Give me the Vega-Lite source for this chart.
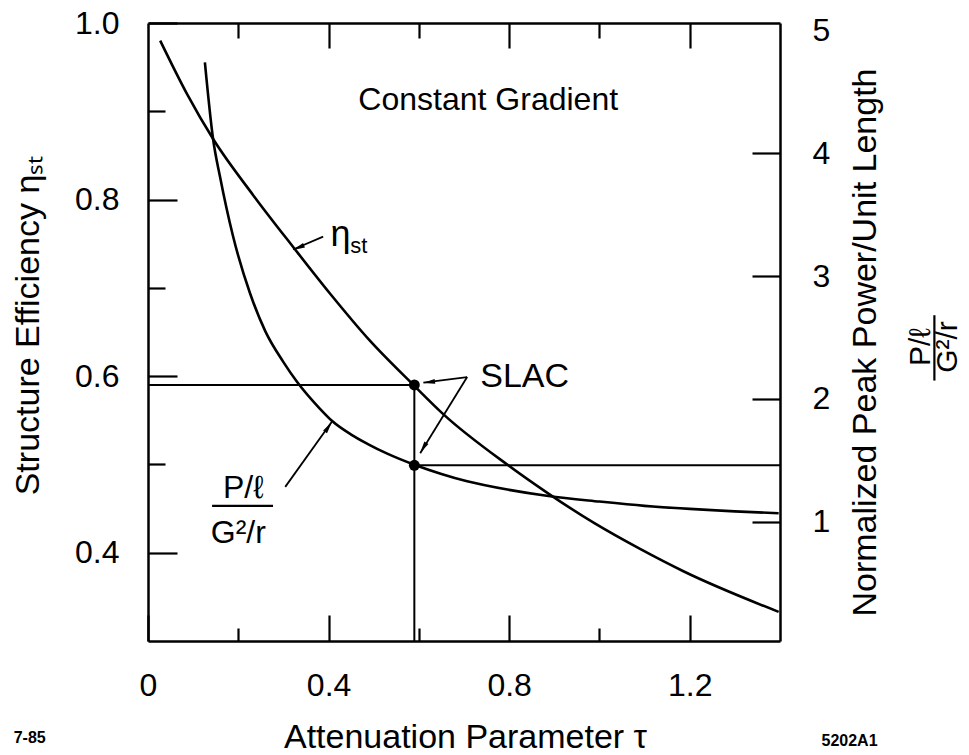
{
  "$schema": "https://vega.github.io/schema/vega-lite/v6.json",
  "width": 632,
  "height": 618,
  "autosize": {"type": "none"},
  "padding": {"left": 148, "top": 23, "right": 189, "bottom": 114},
  "background": "white",
  "config": {
    "view": {"stroke": null},
    "axis": {
      "grid": false,
      "labelFont": "Liberation Sans",
      "titleFont": "Liberation Sans",
      "labelColor": "black",
      "titleColor": "black",
      "tickColor": "black",
      "domainColor": "black",
      "titleFontWeight": "normal",
      "labelFontSize": 32,
      "titleFontSize": 34,
      "domainWidth": 2.5,
      "tickWidth": 2.2,
      "labelOverlap": false,
      "labelFlush": false,
      "labelBound": false
    },
    "text": {"font": "Liberation Sans", "color": "black"}
  },
  "datasets": {
    "eta": [
      {"tau": 0.027, "eta": 0.980},
      {"tau": 0.086, "eta": 0.920},
      {"tau": 0.145, "eta": 0.868},
      {"tau": 0.233, "eta": 0.805},
      {"tau": 0.322, "eta": 0.746},
      {"tau": 0.404, "eta": 0.693},
      {"tau": 0.490, "eta": 0.641},
      {"tau": 0.590, "eta": 0.589},
      {"tau": 0.654, "eta": 0.557},
      {"tau": 0.798, "eta": 0.499},
      {"tau": 0.887, "eta": 0.467},
      {"tau": 0.987, "eta": 0.434},
      {"tau": 1.091, "eta": 0.404},
      {"tau": 1.186, "eta": 0.379},
      {"tau": 1.397, "eta": 0.333}
    ],
    "power": [
      {"tau": 0.126, "P": 4.74},
      {"tau": 0.144, "P": 4.12},
      {"tau": 0.160, "P": 3.80},
      {"tau": 0.188, "P": 3.33},
      {"tau": 0.226, "P": 2.86},
      {"tau": 0.260, "P": 2.55},
      {"tau": 0.300, "P": 2.30},
      {"tau": 0.330, "P": 2.14},
      {"tau": 0.381, "P": 1.92},
      {"tau": 0.408, "P": 1.82},
      {"tau": 0.450, "P": 1.71},
      {"tau": 0.486, "P": 1.635},
      {"tau": 0.530, "P": 1.555},
      {"tau": 0.590, "P": 1.465},
      {"tau": 0.650, "P": 1.39},
      {"tau": 0.707, "P": 1.33},
      {"tau": 0.800, "P": 1.26},
      {"tau": 0.887, "P": 1.21},
      {"tau": 1.000, "P": 1.165},
      {"tau": 1.100, "P": 1.13},
      {"tau": 1.200, "P": 1.105},
      {"tau": 1.300, "P": 1.085},
      {"tau": 1.397, "P": 1.07}
    ],
    "leftRule": [{"tau": 0, "tau2": 0.59, "eta": 0.59}],
    "vertRule": [{"tau": 0.59, "eta": 0.3, "eta2": 0.59}],
    "rightRule": [{"tau": 0.59, "tau2": 1.4, "P": 1.46}],
    "slacEta": [{"tau": 0.59, "eta": 0.59}],
    "slacP": [{"tau": 0.59, "P": 1.46}],
    "arrows": [
      {"id": "eta", "tau": 0.388, "eta": 0.758},
      {"id": "eta", "tau": 0.3215, "eta": 0.7435},
      {"id": "pow", "tau": 0.304, "eta": 0.4746},
      {"id": "pow", "tau": 0.408, "eta": 0.549},
      {"id": "slac1", "tau": 0.707, "eta": 0.599},
      {"id": "slac1", "tau": 0.610, "eta": 0.5926},
      {"id": "slac2", "tau": 0.707, "eta": 0.599},
      {"id": "slac2", "tau": 0.603, "eta": 0.5126}
    ],
    "headEta": [{"tau": 0.3334, "eta": 0.7456}],
    "headPow": [{"tau": 0.3999, "eta": 0.5425}],
    "headSlac1": [{"tau": 0.6225, "eta": 0.5932}],
    "headSlac2": [{"tau": 0.6097, "eta": 0.5187}],
    "txtConst": [{"tau": 0.466, "eta": 0.9017, "label": "Constant Gradient"}],
    "txtSlac": [{"tau": 0.736, "eta": 0.5877, "label": "SLAC"}],
    "txtEta": [{"tau": 0.404, "eta": 0.747, "label": "η"}],
    "txtSt": [{"tau": 0.448, "eta": 0.7395, "label": "st"}],
    "txtFrac": [
      {"tau": 0.211, "eta": 0.462, "label": "P/ℓ"},
      {"tau": 0.200, "eta": 0.411, "label": "G²/r"}
    ],
    "fracBar": [{"tau": 0.142, "tau2": 0.277, "eta": 0.453}],
    "txtRightFrac": [
      {"tau": 1.712, "eta": 0.633, "label": "P/ℓ"},
      {"tau": 1.772, "eta": 0.633, "label": "G²/r"}
    ],
    "rightBar": [{"tau": 1.742, "eta": 0.6690, "eta2": 0.5950}],
    "txtCodes": [
      {"tau": -0.262, "eta": 0.19, "label": "7-85"},
      {"tau": 1.554, "eta": 0.1864, "label": "5202A1"}
    ]
  },
  "resolve": {
    "scale": {"y": "independent"},
    "axis": {"x": "independent", "y": "independent"}
  },
  "layer": [
    {
      "data": {"name": "eta"},
      "mark": {"type": "line", "color": "black", "strokeWidth": 2.6, "interpolate": "monotone"},
      "encoding": {
        "x": {"field": "tau", "type": "quantitative", "scale": {"domain": [0, 1.4], "nice": false, "zero": false},
          "axis": {"orient": "bottom", "values": [0, 0.4, 0.8, 1.2], "tickSize": -26, "labelPadding": 55, "labelBaseline": "top",
            "labelExpr": "datum.value == 0 ? '0' : format(datum.value, '.1f')",
            "title": "Attenuation Parameter  τ", "titleX": 317, "titleY": 106, "titleBaseline": "alphabetic", "titleAlign": "center"}},
        "y": {"field": "eta", "type": "quantitative", "scale": {"domain": [0.3, 1.0], "nice": false, "zero": false},
          "axis": {"orient": "left", "values": [0.4, 0.6, 0.8, 1.0], "tickSize": -29, "labelPadding": 58,
            "labelExpr": "format(datum.value, '.1f')",
            "title": "Structure Efficiency ηₛₜ", "titleAngle": 270, "titleX": -110, "titleY": 302, "titleBaseline": "alphabetic", "titleAlign": "center"}}
      }
    },
    {
      "data": {"name": "power"},
      "mark": {"type": "line", "color": "black", "strokeWidth": 2.6, "interpolate": "monotone"},
      "encoding": {
        "x": {"field": "tau", "type": "quantitative", "scale": {"domain": [0, 1.4], "nice": false, "zero": false},
          "axis": {"orient": "top", "values": [0.4, 0.8, 1.2], "tickSize": -25, "labels": false, "title": null}},
        "y": {"field": "P", "type": "quantitative", "scale": {"domain": [0.03, 5.06], "nice": false, "zero": false},
          "axis": {"orient": "right", "values": [1, 2, 3, 4, 5], "tickSize": -28, "labelPadding": 60,
            "tickColor": {"condition": {"test": "datum.value == 5", "value": "transparent"}, "value": "black"},
            "labelExpr": "format(datum.value, 'd')",
            "title": "Normalized Peak Power/Unit Length", "titleAngle": 270, "titleX": 95, "titleY": 319, "titleBaseline": "alphabetic", "titleAlign": "center"}}
      }
    },
    {
      "data": {"name": "leftRule"},
      "mark": {"type": "rule", "color": "black", "strokeWidth": 2},
      "encoding": {
        "x": {"field": "tau", "type": "quantitative", "scale": {"domain": [0, 1.4], "nice": false, "zero": false},
          "axis": {"orient": "bottom", "values": [0.2, 0.6, 1.0], "tickSize": -13, "labels": false, "domain": false, "title": null}},
        "x2": {"field": "tau2"},
        "y": {"field": "eta", "type": "quantitative", "scale": {"domain": [0.3, 1.0], "nice": false, "zero": false},
          "axis": {"orient": "left", "values": [0.5, 0.7, 0.9], "tickSize": -17, "labels": false, "domain": false, "title": null}}
      }
    },
    {
      "data": {"name": "vertRule"},
      "mark": {"type": "rule", "color": "black", "strokeWidth": 2},
      "encoding": {
        "x": {"field": "tau", "type": "quantitative", "scale": {"domain": [0, 1.4], "nice": false, "zero": false},
          "axis": {"orient": "top", "values": [0.2, 0.6, 1.0], "tickSize": -15, "labels": false, "domain": false, "title": null}},
        "y": {"field": "eta", "type": "quantitative", "scale": {"domain": [0.3, 1.0], "nice": false, "zero": false}, "axis": null},
        "y2": {"field": "eta2"}
      }
    },
    {
      "data": {"name": "rightRule"},
      "mark": {"type": "rule", "color": "black", "strokeWidth": 2},
      "encoding": {
        "x": {"field": "tau", "type": "quantitative", "scale": {"domain": [0, 1.4], "nice": false, "zero": false}, "axis": null},
        "x2": {"field": "tau2"},
        "y": {"field": "P", "type": "quantitative", "scale": {"domain": [0.03, 5.06], "nice": false, "zero": false}, "axis": null}
      }
    },
    {
      "data": {"name": "slacEta"},
      "mark": {"type": "point", "filled": true, "size": 120, "color": "black", "opacity": 1},
      "encoding": {
        "x": {"field": "tau", "type": "quantitative", "scale": {"domain": [0, 1.4], "nice": false, "zero": false}, "axis": null},
        "y": {"field": "eta", "type": "quantitative", "scale": {"domain": [0.3, 1.0], "nice": false, "zero": false}, "axis": null}
      }
    },
    {
      "data": {"name": "slacP"},
      "mark": {"type": "point", "filled": true, "size": 120, "color": "black", "opacity": 1},
      "encoding": {
        "x": {"field": "tau", "type": "quantitative", "scale": {"domain": [0, 1.4], "nice": false, "zero": false}, "axis": null},
        "y": {"field": "P", "type": "quantitative", "scale": {"domain": [0.03, 5.06], "nice": false, "zero": false}, "axis": null}
      }
    },
    {
      "data": {"name": "arrows"},
      "mark": {"type": "line", "color": "black", "strokeWidth": 1.8},
      "encoding": {
        "x": {"field": "tau", "type": "quantitative", "scale": {"domain": [0, 1.4], "nice": false, "zero": false}, "axis": null},
        "y": {"field": "eta", "type": "quantitative", "scale": {"domain": [0.3, 1.0], "nice": false, "zero": false}, "axis": null},
        "detail": {"field": "id", "type": "nominal"},
        "order": {"value": 0}
      }
    },
    {
      "data": {"name": "headEta"},
      "mark": {"type": "point", "shape": "M0,-1L0.4,1L-0.4,1Z", "filled": true, "size": 144, "angle": 246.6, "color": "black", "opacity": 1},
      "encoding": {
        "x": {"field": "tau", "type": "quantitative", "scale": {"domain": [0, 1.4], "nice": false, "zero": false}, "axis": null},
        "y": {"field": "eta", "type": "quantitative", "scale": {"domain": [0.3, 1.0], "nice": false, "zero": false}, "axis": null}
      }
    },
    {
      "data": {"name": "headPow"},
      "mark": {"type": "point", "shape": "M0,-1L0.4,1L-0.4,1Z", "filled": true, "size": 144, "angle": 35.4, "color": "black", "opacity": 1},
      "encoding": {
        "x": {"field": "tau", "type": "quantitative", "scale": {"domain": [0, 1.4], "nice": false, "zero": false}, "axis": null},
        "y": {"field": "eta", "type": "quantitative", "scale": {"domain": [0.3, 1.0], "nice": false, "zero": false}, "axis": null}
      }
    },
    {
      "data": {"name": "headSlac1"},
      "mark": {"type": "point", "shape": "M0,-1L0.4,1L-0.4,1Z", "filled": true, "size": 144, "angle": 262.2, "color": "black", "opacity": 1},
      "encoding": {
        "x": {"field": "tau", "type": "quantitative", "scale": {"domain": [0, 1.4], "nice": false, "zero": false}, "axis": null},
        "y": {"field": "eta", "type": "quantitative", "scale": {"domain": [0.3, 1.0], "nice": false, "zero": false}, "axis": null}
      }
    },
    {
      "data": {"name": "headSlac2"},
      "mark": {"type": "point", "shape": "M0,-1L0.4,1L-0.4,1Z", "filled": true, "size": 144, "angle": 211.7, "color": "black", "opacity": 1},
      "encoding": {
        "x": {"field": "tau", "type": "quantitative", "scale": {"domain": [0, 1.4], "nice": false, "zero": false}, "axis": null},
        "y": {"field": "eta", "type": "quantitative", "scale": {"domain": [0.3, 1.0], "nice": false, "zero": false}, "axis": null}
      }
    },
    {
      "data": {"name": "txtConst"},
      "mark": {"type": "text", "fontSize": 32, "align": "left", "baseline": "alphabetic"},
      "encoding": {
        "x": {"field": "tau", "type": "quantitative", "scale": {"domain": [0, 1.4], "nice": false, "zero": false}, "axis": null},
        "y": {"field": "eta", "type": "quantitative", "scale": {"domain": [0.3, 1.0], "nice": false, "zero": false}, "axis": null},
        "text": {"field": "label"}
      }
    },
    {
      "data": {"name": "txtSlac"},
      "mark": {"type": "text", "fontSize": 34, "align": "left", "baseline": "alphabetic"},
      "encoding": {
        "x": {"field": "tau", "type": "quantitative", "scale": {"domain": [0, 1.4], "nice": false, "zero": false}, "axis": null},
        "y": {"field": "eta", "type": "quantitative", "scale": {"domain": [0.3, 1.0], "nice": false, "zero": false}, "axis": null},
        "text": {"field": "label"}
      }
    },
    {
      "data": {"name": "txtEta"},
      "mark": {"type": "text", "fontSize": 36, "align": "left", "baseline": "alphabetic"},
      "encoding": {
        "x": {"field": "tau", "type": "quantitative", "scale": {"domain": [0, 1.4], "nice": false, "zero": false}, "axis": null},
        "y": {"field": "eta", "type": "quantitative", "scale": {"domain": [0.3, 1.0], "nice": false, "zero": false}, "axis": null},
        "text": {"field": "label"}
      }
    },
    {
      "data": {"name": "txtSt"},
      "mark": {"type": "text", "fontSize": 22, "align": "left", "baseline": "alphabetic"},
      "encoding": {
        "x": {"field": "tau", "type": "quantitative", "scale": {"domain": [0, 1.4], "nice": false, "zero": false}, "axis": null},
        "y": {"field": "eta", "type": "quantitative", "scale": {"domain": [0.3, 1.0], "nice": false, "zero": false}, "axis": null},
        "text": {"field": "label"}
      }
    },
    {
      "data": {"name": "txtFrac"},
      "mark": {"type": "text", "fontSize": 32, "align": "center", "baseline": "alphabetic"},
      "encoding": {
        "x": {"field": "tau", "type": "quantitative", "scale": {"domain": [0, 1.4], "nice": false, "zero": false}, "axis": null},
        "y": {"field": "eta", "type": "quantitative", "scale": {"domain": [0.3, 1.0], "nice": false, "zero": false}, "axis": null},
        "text": {"field": "label"}
      }
    },
    {
      "data": {"name": "fracBar"},
      "mark": {"type": "rule", "color": "black", "strokeWidth": 2.2},
      "encoding": {
        "x": {"field": "tau", "type": "quantitative", "scale": {"domain": [0, 1.4], "nice": false, "zero": false}, "axis": null},
        "x2": {"field": "tau2"},
        "y": {"field": "eta", "type": "quantitative", "scale": {"domain": [0.3, 1.0], "nice": false, "zero": false}, "axis": null}
      }
    },
    {
      "data": {"name": "txtRightFrac"},
      "mark": {"type": "text", "fontSize": 30, "align": "center", "baseline": "middle", "angle": 270},
      "encoding": {
        "x": {"field": "tau", "type": "quantitative", "scale": {"domain": [0, 1.4], "nice": false, "zero": false}, "axis": null},
        "y": {"field": "eta", "type": "quantitative", "scale": {"domain": [0.3, 1.0], "nice": false, "zero": false}, "axis": null},
        "text": {"field": "label"}
      }
    },
    {
      "data": {"name": "rightBar"},
      "mark": {"type": "rule", "color": "black", "strokeWidth": 2.2},
      "encoding": {
        "x": {"field": "tau", "type": "quantitative", "scale": {"domain": [0, 1.4], "nice": false, "zero": false}, "axis": null},
        "y": {"field": "eta", "type": "quantitative", "scale": {"domain": [0.3, 1.0], "nice": false, "zero": false}, "axis": null},
        "y2": {"field": "eta2"}
      }
    },
    {
      "data": {"name": "txtCodes"},
      "mark": {"type": "text", "fontSize": 16, "fontWeight": "bold", "align": "center", "baseline": "middle"},
      "encoding": {
        "x": {"field": "tau", "type": "quantitative", "scale": {"domain": [0, 1.4], "nice": false, "zero": false}, "axis": null},
        "y": {"field": "eta", "type": "quantitative", "scale": {"domain": [0.3, 1.0], "nice": false, "zero": false}, "axis": null},
        "text": {"field": "label"}
      }
    }
  ]
}
